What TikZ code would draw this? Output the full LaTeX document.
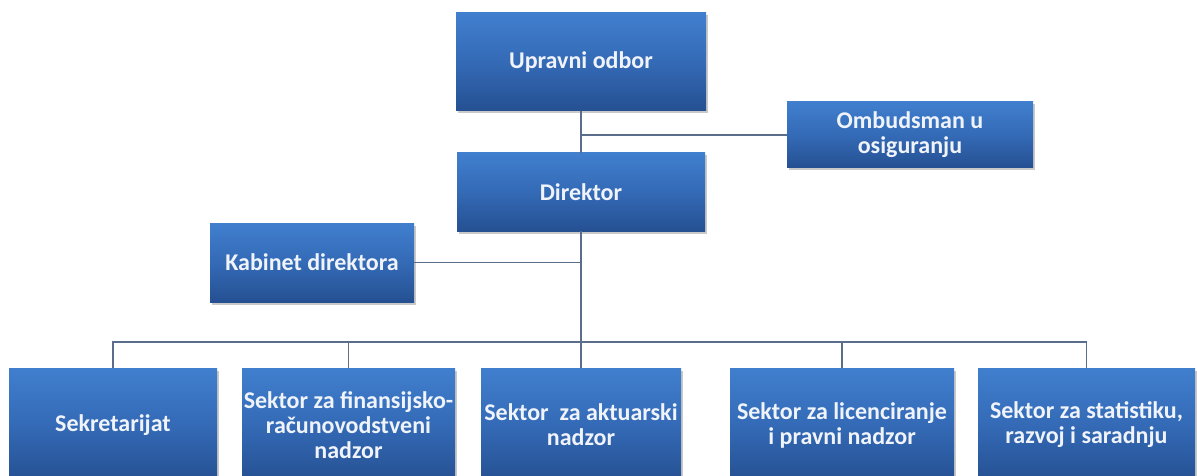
\documentclass[tikz,border=0pt]{standalone}
\usepackage{fontspec}
\setmainfont{Carlito}
\usetikzlibrary{shadows}
\definecolor{boxtop}{RGB}{64,127,206}
\definecolor{boxmid}{RGB}{52,106,182}
\definecolor{boxbot}{RGB}{37,80,146}
\definecolor{linec}{RGB}{90,110,140}
\definecolor{txt}{RGB}{240,244,250}
\tikzset{
  orgbox/.style={rectangle, top color=boxtop, bottom color=boxbot, middle color=boxmid,
    text=txt, font=\fontsize{24}{25}\selectfont\bfseries, align=center, inner sep=0pt,
    drop shadow={shadow xshift=1.5pt, shadow yshift=-2.5pt, opacity=0.35, fill=black!60}},
  conn/.style={draw=linec, line width=1.3pt}
}
\begin{document}
\begin{tikzpicture}[x=1pt,y=-1pt]
\useasboundingbox (0,0) rectangle (1197,476);
\clip (0,0) rectangle (1197,476);
\fill[white] (0,0) rectangle (1197,476);
% top level
\node[orgbox, minimum width=250pt, minimum height=98pt] (upr) at (581,62) {Upravni odbor};
\node[orgbox, minimum width=248pt, minimum height=78pt] (dir) at (581,192) {Direktor};
\node[orgbox, minimum width=246pt, minimum height=66pt] (omb) at (910,135) {Ombudsman u\\osiguranju};
\node[orgbox, minimum width=204pt, minimum height=79pt] (kab) at (312,262.5) {Kabinet direktora};
% bottom row
\node[orgbox, minimum width=208pt, minimum height=114pt] (b1) at (113,425) {Sekretarijat};
\node[orgbox, minimum width=213pt, minimum height=114pt] (b2) at (348.5,425) {Sektor za finansijsko-\\računovodstveni\\nadzor};
\node[orgbox, minimum width=200pt, minimum height=114pt] (b3) at (581,425) {Sektor\ \ za aktuarski\\nadzor};
\node[orgbox, minimum width=224pt, minimum height=114pt] (b4) at (842,425) {Sektor za licenciranje\\i pravni nadzor};
\node[orgbox, minimum width=217pt, minimum height=114pt] (b5) at (1086.5,425) {Sektor za statistiku,\\razvoj i saradnju};
% connectors
\coordinate (bus) at (581,342);
\draw[conn] (upr.south) -- (dir.north);
\draw[conn] (upr.south |- omb.west) -- (omb.west);
\draw[conn] (dir.south) -- (b3.north);
\draw[conn] (kab.east) -- (kab.east -| dir.south);
\draw[conn] (b1.north) -- (b1.north |- bus) -- (b5.north |- bus) -- (b5.north);
\draw[conn] (b2.north) -- (b2.north |- bus);
\draw[conn] (b4.north) -- (b4.north |- bus);
\end{tikzpicture}
\end{document}
